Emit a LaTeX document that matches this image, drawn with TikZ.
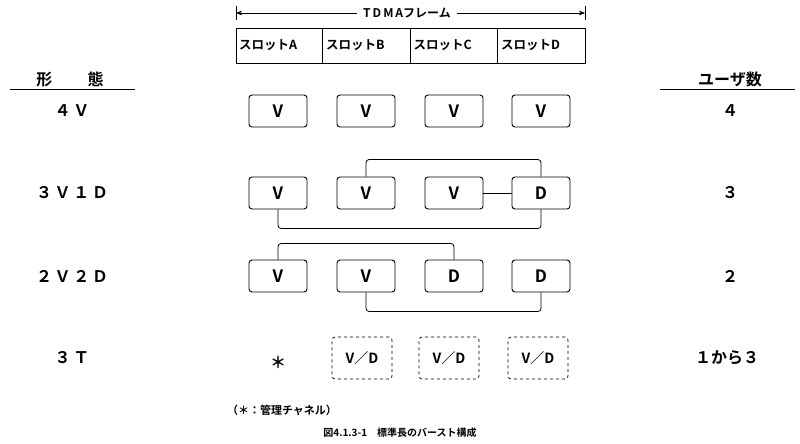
\documentclass[tikz,border=0pt]{standalone}
\usepackage{fontspec}
\setmainfont{Noto Sans CJK JP}[BoldFont={Noto Sans CJK JP Bold}]
\usetikzlibrary{arrows.meta}
\begin{document}
\begin{tikzpicture}[x=1pt,y=-1pt,
  cell/.style={draw,rounded corners=3pt,minimum width=58pt,minimum height=32pt,font=\fontsize{17}{17}\selectfont\bfseries,line width=0.9pt},
  tcell/.style={draw,dashed,rounded corners=3pt,minimum width=60pt,minimum height=42pt,font=\fontsize{14}{14}\selectfont\bfseries,line width=0.7pt},
  slot/.style={draw,minimum height=35pt,inner xsep=3pt,inner ysep=2pt,font=\fontsize{12.5}{12.5}\selectfont\bfseries,line width=0.8pt,text width=80pt,align=left},
  lab/.style={font=\fontsize{16}{16}\selectfont\bfseries},
  conn/.style={line width=0.8pt,rounded corners=3pt}]
\useasboundingbox (0,0) rectangle (800,444);
% frame arrow
\coordinate (fl) at (236,13); \coordinate (fr) at (585,13);
\node[font=\fontsize{12}{12}\selectfont\bfseries,fill=white,inner sep=6pt] (tdma) at (407,13) {T\,D\,M\,Aフレーム};
\draw[-{Stealth[length=6pt]}] (tdma.west) -- (fl);
\draw[-{Stealth[length=6pt]}] (tdma.east) -- (fr);
\draw (236,6) -- (236,20); \draw (585,6) -- (585,20);
% slots
\node[slot,minimum width=86pt] (sa) at (279,45.5) {スロットA};
\node[slot,minimum width=88pt] (sb) at (366,45.5) {スロットB};
\node[slot,minimum width=87pt] (sc) at (453.5,45.5) {スロットC};
\node[slot,minimum width=88pt] (sd) at (541,45.5) {スロットD};
% headers
\node[lab] (h1) at (70,79) {形\hspace{2.2em}態};
\draw[line width=1pt] (10,89) -- (135,89);
\node[lab] (h2) at (730,79) {ユーザ数};
\draw[line width=1pt] (660,89) -- (795,89);
% row labels
\node[lab] (l1) at (72,111) {４\,Ｖ};
\node[lab] (l2) at (72,193) {３\,Ｖ\,１\,Ｄ};
\node[lab] (l3) at (72,276) {２\,Ｖ\,２\,Ｄ};
\node[lab] (l4) at (72,358) {３\,Ｔ};
\node[lab] (n1) at (730,111) {４};
\node[lab] (n2) at (730,193) {３};
\node[lab] (n3) at (730,276) {２};
\node[lab] (n4) at (727,358) {１から３};
% row 1
\node[cell] (a1) at (278,111) {V};
\node[cell] (b1) at (366,111) {V};
\node[cell] (c1) at (454,111) {V};
\node[cell] (d1) at (541,111) {V};
% row 2
\node[cell] (a2) at (278,193) {V};
\node[cell] (b2) at (366,193) {V};
\node[cell] (c2) at (454,193) {V};
\node[cell] (d2) at (541,193) {D};
\draw[conn] (b2.north) -- ++(0,-17) -| (d2.north);
\draw[conn] (c2.east) -- (d2.west);
\draw[conn] (a2.south) -- ++(0,19) -| (d2.south);
% row 3
\node[cell] (a3) at (278,276) {V};
\node[cell] (b3) at (366,276) {V};
\node[cell] (c3) at (454,276) {D};
\node[cell] (d3) at (541,276) {D};
\draw[conn] (a3.north) -- ++(0,-16) -| (c3.north);
\draw[conn] (b3.south) -- ++(0,19) -| (d3.south);
% row 4
\node[font=\fontsize{16}{16}\selectfont\bfseries] (s4) at (278,362) {＊};
\node[tcell] (b4) at (362,358) {V／D};
\node[tcell] (c4) at (449,358) {V／D};
\node[tcell] (d4) at (538,358) {V／D};
\node[font=\fontsize{11}{11}\selectfont\bfseries] (note) at (282,410) {（＊：管理チャネル）};
\node[font=\fontsize{10}{10}\selectfont\bfseries] (cap) at (400,433) {図4.1.3-1\quad 標準長のバースト構成};
\end{tikzpicture}
\end{document}
